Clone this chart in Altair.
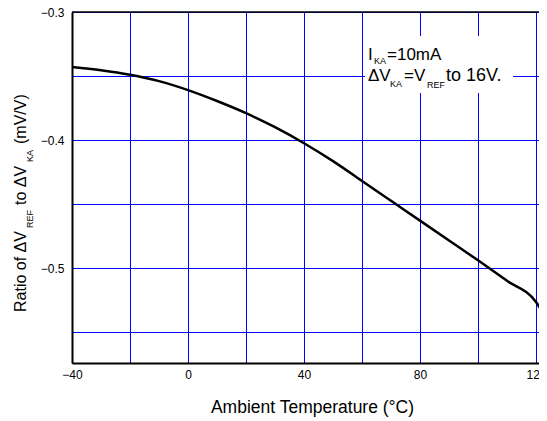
import altair as alt
import pandas as pd

# Data
temps = [-40, -30, -20, -10, 0, 10, 20, 30, 40, 50, 60, 70, 80, 90, 100, 110, 120, 122.4]
ratio = [-0.343, -0.3455, -0.349, -0.354, -0.361, -0.3695, -0.379, -0.390, -0.4025,
         -0.4165, -0.432, -0.4475, -0.463, -0.4785, -0.494, -0.510, -0.5265, -0.535]

x_grid = [-40, -20, 0, 20, 40, 60, 80, 100, 120]
y_grid = [-0.3, -0.35, -0.4, -0.45, -0.5, -0.55]

FONT = "Liberation Sans"

df = pd.DataFrame({"t": temps, "r": ratio})

xscale = alt.Scale(domain=[-40, 121.03], nice=False, zero=False)
yscale = alt.Scale(domain=[-0.5742, -0.3], nice=False, zero=False)

base = alt.Chart(df)

line = base.mark_line(color="black", strokeWidth=2.5, interpolate="monotone", clip=True).encode(
    x=alt.X("t:Q", scale=xscale,
            axis=alt.Axis(values=x_grid, labelExpr="datum.value % 40 == 0 ? datum.label : ''",
                          title="Ambient Temperature (°C)", titleFont=FONT, titleFontSize=17.5,
                          titleFontWeight="normal", titleColor="black",
                          titleX=240, titleY=49, titleAlign="center", titleBaseline="alphabetic",
                          labelFont=FONT, labelFontSize=12, labelColor="black", labelPadding=6,
                          ticks=False, grid=True, gridColor="#0000ff", gridWidth=1, gridOpacity=1,
                          domainColor="black", domainWidth=2, labelFlush=False)),
    y=alt.Y("r:Q", scale=yscale,
            axis=alt.Axis(values=y_grid,
                          labelExpr="abs(round(datum.value*100)) % 10 == 0 ? format(datum.value, '.1f') : ''",
                          title=None, labelFont=FONT, labelFontSize=12, labelColor="black",
                          labelPadding=8, ticks=False, grid=True, gridColor="#0000ff",
                          gridWidth=1, gridOpacity=1, domainColor="black", domainWidth=2)),
)

top_rule = alt.Chart(pd.DataFrame({"y": [-0.3]})).mark_rule(color="black", strokeWidth=1.5).encode(
    y=alt.Y("y:Q", scale=yscale)
)

box = alt.Chart(pd.DataFrame({"a": [0]})).mark_rect(fill="white").encode(
    x=alt.value(293), x2=alt.value(441), y=alt.value(24), y2=alt.value(81)
)

one = pd.DataFrame({"a": [0]})


def txt(s, x, y, size=17, angle=0, baseline="alphabetic"):
    kw = dict(font=FONT, fontSize=size, color="black", align="left", baseline=baseline)
    if angle:
        kw["angle"] = angle
    return alt.Chart(one).mark_text(**kw).encode(
        x=alt.value(x), y=alt.value(y), text=alt.value(s)
    )


# annotation (relative to plot origin)
note = [
    txt("I", 296, 48),
    txt("KA", 302, 52, size=9),
    txt("=10mA", 315, 48),
    txt("ΔV", 296, 69),
    txt("KA", 318, 75, size=9),
    txt("=V", 332, 69),
    txt("REF", 355, 76, size=9),
    txt("to 16V.", 374, 69, size=18),
]

# y-axis title with subscripts (rotated)
ytitle = [
    txt("Ratio of ΔV", -46, 300, size=16, angle=270),
    txt("REF", -39, 216, size=9, angle=270),
    txt("to ΔV", -46, 193, size=16, angle=270),
    txt("KA", -39, 150, size=9, angle=270),
    txt("(mV/V)", -46, 132, size=16, angle=270),
]

chart = alt.layer(line, top_rule, box, *note, *ytitle).properties(
    width=467, height=351,
    autosize=alt.AutoSizeParams(type="none"),
    padding={"left": 64, "top": 4, "right": 0, "bottom": 58},
).configure_view(stroke=None).configure(background="white")

chart.save("out.html", embed_options={"renderer": "svg", "actions": False})
